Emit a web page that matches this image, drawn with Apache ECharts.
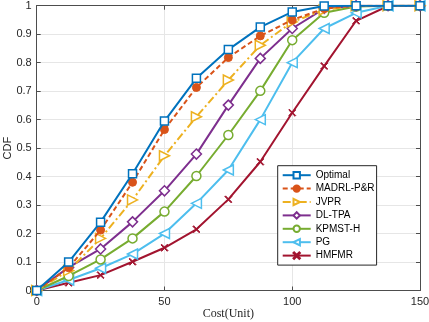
<!DOCTYPE html>
<html>
<head>
<meta charset="utf-8">
<script src="https://cdn.jsdelivr.net/npm/echarts@6/dist/echarts.min.js"></script>
<style>
  html, body { margin: 0; padding: 0; background: #fff; }
  #main { width: 429px; height: 322px; }
</style>
</head>
<body>
<div id="main"></div>
<script>
// cost values (x) and CDF values per method
var costs = [0, 12.5, 25, 37.5, 50, 62.5, 75, 87.5, 100, 112.5, 125, 137.5, 150];
var optimal = [0, 0.10, 0.24, 0.41, 0.595, 0.745, 0.846, 0.925, 0.978, 0.999, 1, 1, 1];
var madrl = [0, 0.08, 0.212, 0.38, 0.565, 0.713, 0.818, 0.894, 0.95, 0.99, 1, 1, 1];
var jvpr = [0, 0.07, 0.183, 0.318, 0.473, 0.61, 0.739, 0.861, 0.943, 0.985, 1, 1, 1];
var dltpa = [0, 0.081, 0.146, 0.241, 0.35, 0.479, 0.651, 0.815, 0.92, 0.99, 1, 1, 1];
var kpmst = [0, 0.051, 0.109, 0.183, 0.277, 0.402, 0.546, 0.701, 0.879, 0.975, 0.997, 1, 1];
var pg = [0, 0.037, 0.078, 0.128, 0.2, 0.306, 0.423, 0.6, 0.8, 0.92, 0.975, 1, 1];
var hmfmr = [0, 0.027, 0.054, 0.101, 0.15, 0.215, 0.32, 0.452, 0.624, 0.788, 0.947, 0.999, 1];

var names = ['Optimal', 'MADRL-P&R', 'JVPR', 'DL-TPA', 'KPMST-H', 'PG', 'HMFMR'];
var colors = ['#0072BD', '#D95319', '#EDB120', '#7E2F8E', '#77AC30', '#4DBEEE', '#A2142F'];

var chart = echarts.init(document.getElementById('main'));

function pairs(ys) {
  var out = [];
  for (var i = 0; i < costs.length; i++) out.push([costs[i], ys[i]]);
  return out;
}

var crossPath = 'path://M0,1L1,0L5,4L9,0L10,1L6,5L10,9L9,10L5,6L1,10L0,9L4,5Z';

function mk(idx, ys, symbol, size, lineType, rotate, filled) {
  var c = colors[idx];
  return {
    name: names[idx],
    type: 'line',
    data: pairs(ys),
    symbol: symbol,
    symbolSize: size,
    symbolRotate: rotate || 0,
    showAllSymbol: true,
    lineStyle: { color: c, width: 2, type: lineType },
    itemStyle: filled
      ? { color: c, borderColor: c, borderWidth: 1 }
      : { color: '#fff', borderColor: c, borderWidth: 1.5 },
    emphasis: { disabled: true },
    z: 10 - idx
  };
}

var series = [
  mk(0, optimal, 'rect', 8, 'solid'),
  mk(1, madrl, 'circle', 8, [5, 3], 0, true),
  mk(2, jvpr, 'triangle', 10, [8, 3, 2, 3], -90),
  mk(3, dltpa, 'diamond', 10, 'solid'),
  mk(4, kpmst, 'circle', 9, 'solid'),
  mk(5, pg, 'triangle', 10, 'solid', 90),
  mk(6, hmfmr, crossPath, 7, 'solid', 0, true)
];

var axisCol = '#4d4d4d';
var labelStyle = { color: '#262626', fontSize: 11, fontFamily: 'Liberation Sans, Arial, sans-serif' };

var option = {
  animation: false,
  backgroundColor: '#fff',
  grid: { left: 36.7, right: 9, top: 5.7, bottom: 31.5, containLabel: false, outerBoundsMode: 'none' },
  legend: {
    orient: 'vertical',
    left: 277.7,
    top: 165.7,
    data: names,
    backgroundColor: '#fff',
    borderColor: '#262626',
    borderWidth: 1,
    padding: [4.5, 2, 4.5, 4],
    itemWidth: 28,
    itemHeight: 8,
    itemGap: 3.4,
    textStyle: { color: '#000', fontSize: 10, fontFamily: 'Liberation Sans, Arial, sans-serif' }
  },
  xAxis: [{
    type: 'value',
    min: 0, max: 150, interval: 50,
    name: 'Cost(Unit)',
    nameLocation: 'middle',
    nameGap: 17,
    nameMoveOverlap: false,
    nameTextStyle: { color: '#262626', fontSize: 12, fontFamily: 'Liberation Serif, serif' },
    axisLine: { show: true, onZero: false, lineStyle: { color: axisCol, width: 1 } },
    axisTick: { show: true, inside: true, length: 4, lineStyle: { color: axisCol } },
    axisLabel: Object.assign({ margin: 6 }, labelStyle),
    splitLine: { show: true, lineStyle: { color: '#e6e6e6', width: 1 } }
  }, {
    type: 'value', position: 'top',
    min: 0, max: 150, interval: 50,
    axisLine: { show: true, onZero: false, lineStyle: { color: axisCol, width: 1 } },
    axisTick: { show: true, inside: true, length: 4, lineStyle: { color: axisCol } },
    axisLabel: { show: false },
    splitLine: { show: false }
  }],
  yAxis: [{
    type: 'value',
    min: 0, max: 1, interval: 0.1,
    name: 'CDF',
    nameLocation: 'middle',
    nameGap: 23,
    nameMoveOverlap: false,
    nameTextStyle: { color: '#262626', fontSize: 11, fontFamily: 'Liberation Sans, Arial, sans-serif' },
    axisLine: { show: true, onZero: false, lineStyle: { color: axisCol, width: 1 } },
    axisTick: { show: true, inside: true, length: 4, lineStyle: { color: axisCol } },
    axisLabel: Object.assign({ margin: 5, formatter: function (v) { return String(Math.round(v * 10) / 10); } }, labelStyle),
    splitLine: { show: true, lineStyle: { color: '#e6e6e6', width: 1 } }
  }, {
    type: 'value', position: 'right',
    min: 0, max: 1, interval: 0.1,
    axisLine: { show: true, onZero: false, lineStyle: { color: axisCol, width: 1 } },
    axisTick: { show: true, inside: true, length: 4, lineStyle: { color: axisCol } },
    axisLabel: { show: false },
    splitLine: { show: false }
  }],
  series: series
};

chart.setOption(option);
</script>
</body>
</html>
